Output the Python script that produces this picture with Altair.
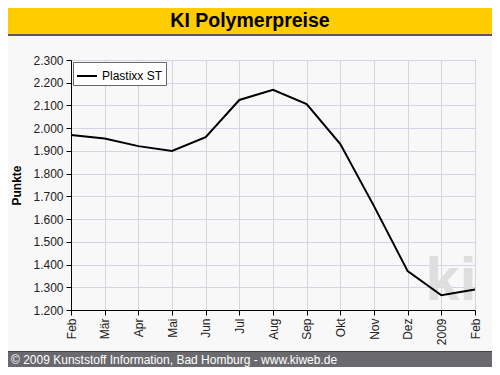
import altair as alt
import pandas as pd

months = ["Feb", "Mär", "Apr", "Mai", "Jun", "Jul", "Aug", "Sep", "Okt", "Nov", "Dez", "2009", "Feb"]
values = [1970, 1955, 1921, 1900, 1960, 2124, 2169, 2106, 1930, 1657, 1371, 1265, 1290]
series = "Plastixx ST"

df = pd.DataFrame({"idx": list(range(len(months))), "Punkte": values, "Serie": series})

W, H = 404, 250
label_arr = "[" + ",".join("'" + m + "'" for m in months) + "]"

line = alt.Chart(df).mark_line(color="black", strokeWidth=2).encode(
    x=alt.X("idx:Q", scale=alt.Scale(domain=[0, 12], nice=False, zero=False),
            axis=alt.Axis(values=list(range(13)), labelExpr=label_arr + "[datum.value]",
                          labelAngle=-90, labelAlign="right", labelBaseline="middle",
                          title=None, tickSize=5, tickColor="black", domainColor="black",
                          gridColor="#D4D4E4", labelFontSize=12, labelColor="#222",
                          labelFont="Liberation Sans", labelPadding=3)),
    y=alt.Y("Punkte:Q", scale=alt.Scale(domain=[1200, 2300], nice=False, zero=False),
            axis=alt.Axis(values=list(range(1200, 2301, 100)),
                          labelExpr="replace(format(datum.value, ',.0f'), ',', '.')",
                          title="Punkte", titleFont="Liberation Sans", titleFontSize=12,
                          titleFontWeight="bold", titleColor="black", titlePadding=9,
                          tickSize=5, tickColor="black", domainColor="black",
                          gridColor="#D4D4E4", labelFontSize=12, labelColor="#222",
                          labelFont="Liberation Sans", labelPadding=3)),
    stroke=alt.Stroke("Serie:N", scale=alt.Scale(range=["black"]),
                      legend=alt.Legend(title=None, orient="top-left", offset=2,
                                        strokeColor="#666", fillColor="white",
                                        padding=3, symbolType="stroke", symbolSize=400,
                                        symbolStrokeWidth=2, labelFontSize=12,
                                        labelFont="Liberation Sans", labelColor="black")),
)

wm = alt.Chart(pd.DataFrame({"t": ["ki"]})).mark_text(
    fontSize=62, fontWeight="bold", color="#DEDEDE", font="Liberation Sans",
    align="center", baseline="alphabetic"
).encode(text="t:N", x=alt.value(380), y=alt.value(240))

deco = pd.DataFrame({"k": [0]})
topbar = alt.Chart(deco).mark_rect(color="#FFCC00", clip=False).encode(
    x=alt.value(-63), x2=alt.value(421), y=alt.value(-52), y2=alt.value(-26))
topline = alt.Chart(deco).mark_rect(color="#5A5A5A", clip=False).encode(
    x=alt.value(-63), x2=alt.value(421), y=alt.value(-26), y2=alt.value(-24))
botline = alt.Chart(deco).mark_rect(color="#444444", clip=False).encode(
    x=alt.value(-63), x2=alt.value(421), y=alt.value(291), y2=alt.value(292))
botbar = alt.Chart(deco).mark_rect(color="#6A6A6E", clip=False).encode(
    x=alt.value(-63), x2=alt.value(421), y=alt.value(292), y2=alt.value(307))
title = alt.Chart(pd.DataFrame({"t": ["KI Polymerpreise"]})).mark_text(
    fontSize=19.5, fontWeight="bold", color="black", font="Liberation Sans",
    align="center", baseline="middle"
).encode(text="t:N", x=alt.value(179), y=alt.value(-39))
foot = alt.Chart(pd.DataFrame({"t": ["© 2009 Kunststoff Information, Bad Homburg - www.kiweb.de"]})).mark_text(
    fontSize=12, color="white", font="Liberation Sans", align="left", baseline="middle"
).encode(text="t:N", x=alt.value(-60), y=alt.value(299.5))

chart = alt.layer(topbar, topline, botline, botbar, title, foot, wm, line).properties(
    width=W, height=H,
    autosize=alt.AutoSizeParams(type="none"),
    padding={"left": 63, "top": 52, "right": 17, "bottom": 57},
    background="#F8F8F8",
).configure_view(stroke="black", strokeWidth=1)

chart.save("out.html", embed_options={"renderer": "svg", "actions": False})
